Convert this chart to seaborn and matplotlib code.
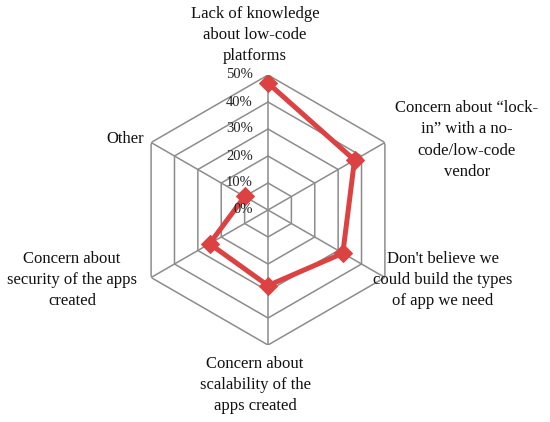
import numpy as np
import pandas as pd
import matplotlib
matplotlib.use("Agg")
import matplotlib.pyplot as plt
import seaborn as sns

categories = [
    "Lack of knowledge\nabout low-code\nplatforms",
    "Concern about \u201clock-\nin\u201d with a no-\ncode/low-code\nvendor",
    "Don't believe we\ncould build the types\nof app we need",
    "Concern about\nscalability of the\napps created",
    "Concern about\nsecurity of the apps\ncreated",
    "Other",
]
values = [47, 37, 32, 28, 25, 10]
ticks = [0, 10, 20, 30, 40, 50]
tick_labels = ["0%", "10%", "20%", "30%", "40%", "50%"]

# label centres in pixels (x, y from top)
label_pos = [(255, 35), (467, 140), (443, 280), (255, 385), (72, 280), (125, 139)]

sns.set_theme(style="white")
plt.rcParams["font.family"] = ["Liberation Serif", "DejaVu Serif"]

W, H = 550, 422
fig = plt.figure(figsize=(W / 100, H / 100), dpi=100)
cx, cy, R = 268, 210, 135
ax = fig.add_axes([(cx - R) / W, 1 - (cy + R) / H, 2 * R / W, 2 * R / H], projection="polar")
ax.set_theta_zero_location("N")
ax.set_theta_direction(-1)

gray = "#8c8c8c"
red = "#dc4242"
n = len(values)
angles = np.deg2rad(np.arange(n) * 360 / n)
closed = np.append(angles, angles[0])

for t in ticks[1:]:
    ax.plot(closed, [t] * (n + 1), color=gray, lw=1.1, zorder=1)
for a in angles:
    ax.plot([a, a], [0, ticks[-1]], color=gray, lw=1.1, zorder=1)

df = pd.DataFrame({"theta": closed, "value": values + [values[0]]})
sns.lineplot(data=df, x="theta", y="value", sort=False, ax=ax, color=red,
             linewidth=3.6, marker="D", markersize=9.5, markeredgecolor=red,
             zorder=3)

ax.set_ylim(0, ticks[-1])
ax.grid(False)
ax.spines["polar"].set_visible(False)
ax.set_xticks([])
ax.set_yticks([])
ax.set_xlabel("")
ax.set_ylabel("")
ax.set_facecolor("none")

for t, lbl in zip(ticks, tick_labels):
    ax.annotate(lbl, xy=(0, t), xytext=(-11, 0), textcoords="offset points",
                ha="right", va="center", fontsize=10.5, color="#222222")

for lbl, (x, y) in zip(categories, label_pos):
    fig.text(x / W, 1 - y / H, lbl, ha="center", va="center",
             multialignment="center", fontsize=12, linespacing=1.42,
             color="#111111")

fig.savefig("out.png", dpi=100)
